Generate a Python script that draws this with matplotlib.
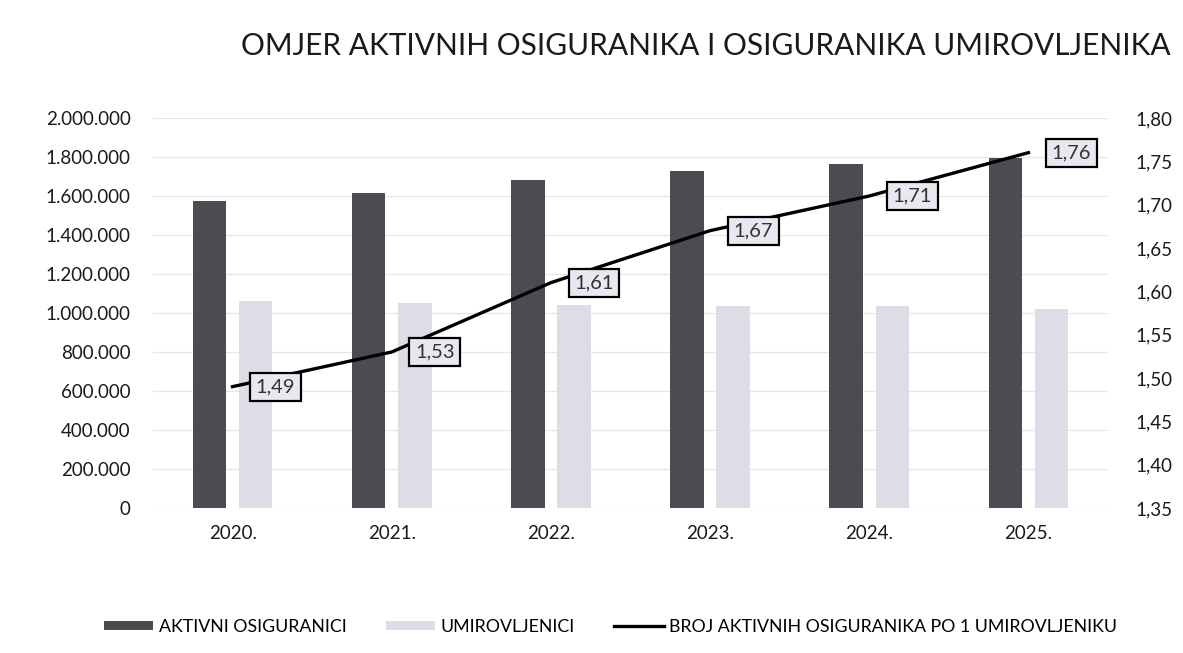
import matplotlib
matplotlib.use("Agg")
import matplotlib.pyplot as plt
from matplotlib.ticker import FuncFormatter, MultipleLocator
from matplotlib.patches import Patch
from matplotlib.lines import Line2D
import numpy as np

years = ["2020.", "2021.", "2022.", "2023.", "2024.", "2025."]
aktivni = [1574000, 1615000, 1680000, 1730000, 1765000, 1795000]
umirovljenici = [1060000, 1050000, 1043000, 1035000, 1035000, 1020000]
omjer = [1.49, 1.53, 1.61, 1.67, 1.71, 1.76]

title = "OMJER AKTIVNIH OSIGURANIKA I OSIGURANIKA UMIROVLJENIKA"
legend_labels = ["AKTIVNI OSIGURANICI", "UMIROVLJENICI",
                 "BROJ AKTIVNIH OSIGURANIKA PO 1 UMIROVLJENIKU"]

plt.rcParams['font.family'] = ['Lato', 'DejaVu Sans']

dark = "#4b4b52"
light = "#dedde7"
txt = "#1a1a1a"

fig = plt.figure(figsize=(11.83, 6.53), dpi=100)
ax = fig.add_axes([0.1293, 0.2221, 0.8073, 0.5972])
x = np.arange(len(years))
w = 0.21
off = 0.145
ax.bar(x - off, aktivni, width=w, color=dark, zorder=2)
ax.bar(x + off, umirovljenici, width=w, color=light, zorder=2)
ax.set_xlim(-0.5, len(years) - 0.5)
ax.set_ylim(0, 2000000)
ax.yaxis.set_major_locator(MultipleLocator(200000))
ax.yaxis.set_major_formatter(FuncFormatter(lambda v, p: f"{int(v):,}".replace(",", ".")))
ax.grid(axis='y', color="#e6e6e6", linewidth=0.9, zorder=0)
ax.set_axisbelow(True)
for s in ax.spines.values():
    s.set_visible(False)
ax.tick_params(axis='y', length=0, pad=16, labelsize=13.5, labelcolor=txt)
ax.tick_params(axis='x', length=0, pad=12, labelsize=13.5, labelcolor=txt)
ax.set_xticks(x)
ax.set_xticklabels(years)

ax2 = ax.twinx()
ax2.set_ylim(1.35, 1.80)
ax2.yaxis.set_major_locator(MultipleLocator(0.05))
ax2.yaxis.set_major_formatter(FuncFormatter(lambda v, p: f"{v:.2f}".replace(".", ",")))
for s in ax2.spines.values():
    s.set_visible(False)
ax2.tick_params(axis='y', length=0, pad=20, labelsize=13.5, labelcolor=txt)
ax2.plot(x, omjer, color="black", linewidth=2.4, zorder=3)
for xi, v in zip(x, omjer):
    ax2.annotate(f"{v:.2f}".replace(".", ","), (xi, v), xytext=(31, 0),
                 textcoords="offset points", ha="center", va="center",
                 fontsize=14.5, color="#333333",
                 bbox=dict(boxstyle="square,pad=0.28", facecolor="#e9e8f0",
                           edgecolor="black", linewidth=1.6), zorder=4)

fig.text(0.597, 0.93, title, ha="center", va="center", fontsize=21.5, color=txt)

handles = [Patch(facecolor=dark, edgecolor='none'),
           Patch(facecolor=light, edgecolor='none'),
           Line2D([0], [0], color="black", linewidth=2.4)]
fig.legend(handles, legend_labels, loc="center", bbox_to_anchor=(0.516, 0.04),
           ncol=3, frameon=False, fontsize=12.8, handlelength=2.8, handleheight=0.45,
           handletextpad=0.3, columnspacing=2.2)

fig.savefig("out.png", dpi=100)
